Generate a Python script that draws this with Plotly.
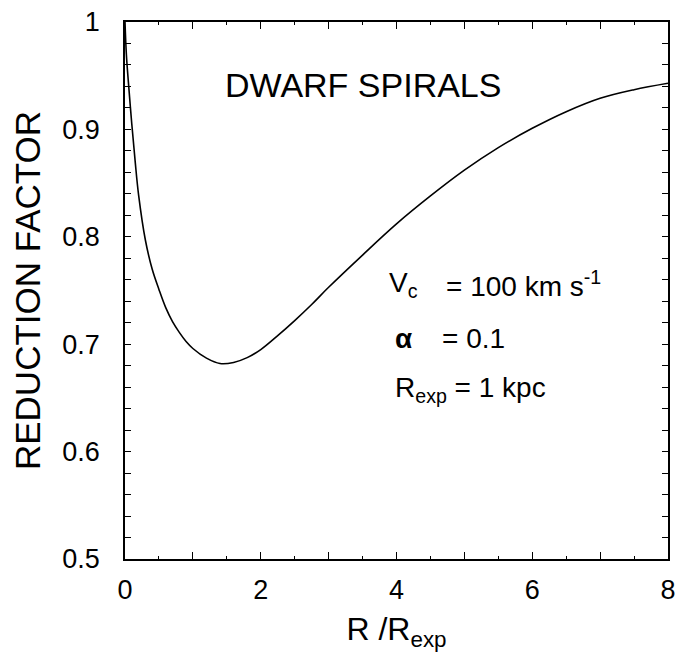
import plotly.graph_objects as go

# reduction factor
r_over_rexp = [0, 0.02, 0.05, 0.1, 0.15, 0.2, 0.3, 0.4, 0.5, 0.6, 0.7, 0.8, 0.9,
               1.0, 1.2, 1.4, 1.6, 1.8, 2.0, 2.25, 2.5, 2.75, 3.0, 3.5, 4.0, 4.5, 5.0,
               5.5, 6.0, 6.5, 7.0, 7.5, 8.0]
reduction = [1.0, 0.970, 0.944, 0.905, 0.870, 0.839, 0.797, 0.770, 0.751, 0.734,
             0.721, 0.711, 0.7025, 0.696, 0.687, 0.682, 0.683, 0.6875, 0.695, 0.708,
             0.722, 0.737, 0.753, 0.783, 0.812, 0.838, 0.862, 0.883, 0.901, 0.9165,
             0.929, 0.937, 0.943]

x_ticks = [0, 1, 2, 3, 4, 5, 6, 7, 8]
x_labels = ["0", "", "2", "", "4", "", "6", "", "8"]
y_ticks = [0.5, 0.6, 0.7, 0.8, 0.9, 1.0]
y_labels = ["0.5", "0.6", "0.7", "0.8", "0.9", "1"]

FONT = "Liberation Sans"

fig = go.Figure()
fig.add_trace(go.Scatter(
    x=r_over_rexp, y=reduction, mode="lines",
    line=dict(color="black", width=1.6, shape="spline", smoothing=1.0),
    showlegend=False, hoverinfo="skip",
))

axis_common = dict(
    showgrid=False, zeroline=False, showline=True, linecolor="black", linewidth=1.5,
    mirror="ticks", ticks="inside", tickcolor="black", tickwidth=1.2,
    tickfont=dict(family=FONT, size=27, color="black"),
    ticklabeloverflow="allow", automargin=False,
)

fig.update_xaxes(
    range=[0, 8], tickmode="array", tickvals=x_ticks, ticktext=x_labels, ticklen=7,
    minor=dict(dtick=0.5, ticklen=3, ticks="inside", tickcolor="black", tickwidth=1.2),
    ticklabelstandoff=6,
    title=dict(text="R /R<sub>exp</sub>", font=dict(family=FONT, size=32, color="black"),
               standoff=16),
    **axis_common,
)
fig.update_yaxes(
    range=[0.5, 1.0], tickmode="array", tickvals=y_ticks, ticktext=y_labels, ticklen=6,
    minor=dict(dtick=0.02, ticklen=6, ticks="inside", tickcolor="black", tickwidth=1.2),
    ticklabelstandoff=18,
    title=dict(text="REDUCTION FACTOR", font=dict(family=FONT, size=35, color="black"),
               standoff=12),
    **axis_common,
)

notes = [
    (1.45, 0.941, "DWARF SPIRALS", 34),
    (3.86, 0.756, "V<sub>c</sub>", 28),
    (4.7, 0.756, "= 100 km s<sup>-1</sup>", 28),
    (3.95, 0.705, "<b>α</b>", 28),
    (4.64, 0.705, "= 0.1", 28),
    (3.95, 0.658, "R<sub>exp</sub> = 1 kpc", 28),
]
for x, y, t, s in notes:
    fig.add_annotation(x=x, y=y, xref="x", yref="y", text=t, showarrow=False,
                       xanchor="left", yanchor="middle",
                       font=dict(family=FONT, size=s, color="black"))

# page body adds an 8px margin; keep the figure inside the window so nothing scrolls
fig.update_layout(
    width=667, height=644,
    margin=dict(l=117, r=7, t=14, b=93),
    paper_bgcolor="white", plot_bgcolor="white",
)

fig.write_html("out.html")
